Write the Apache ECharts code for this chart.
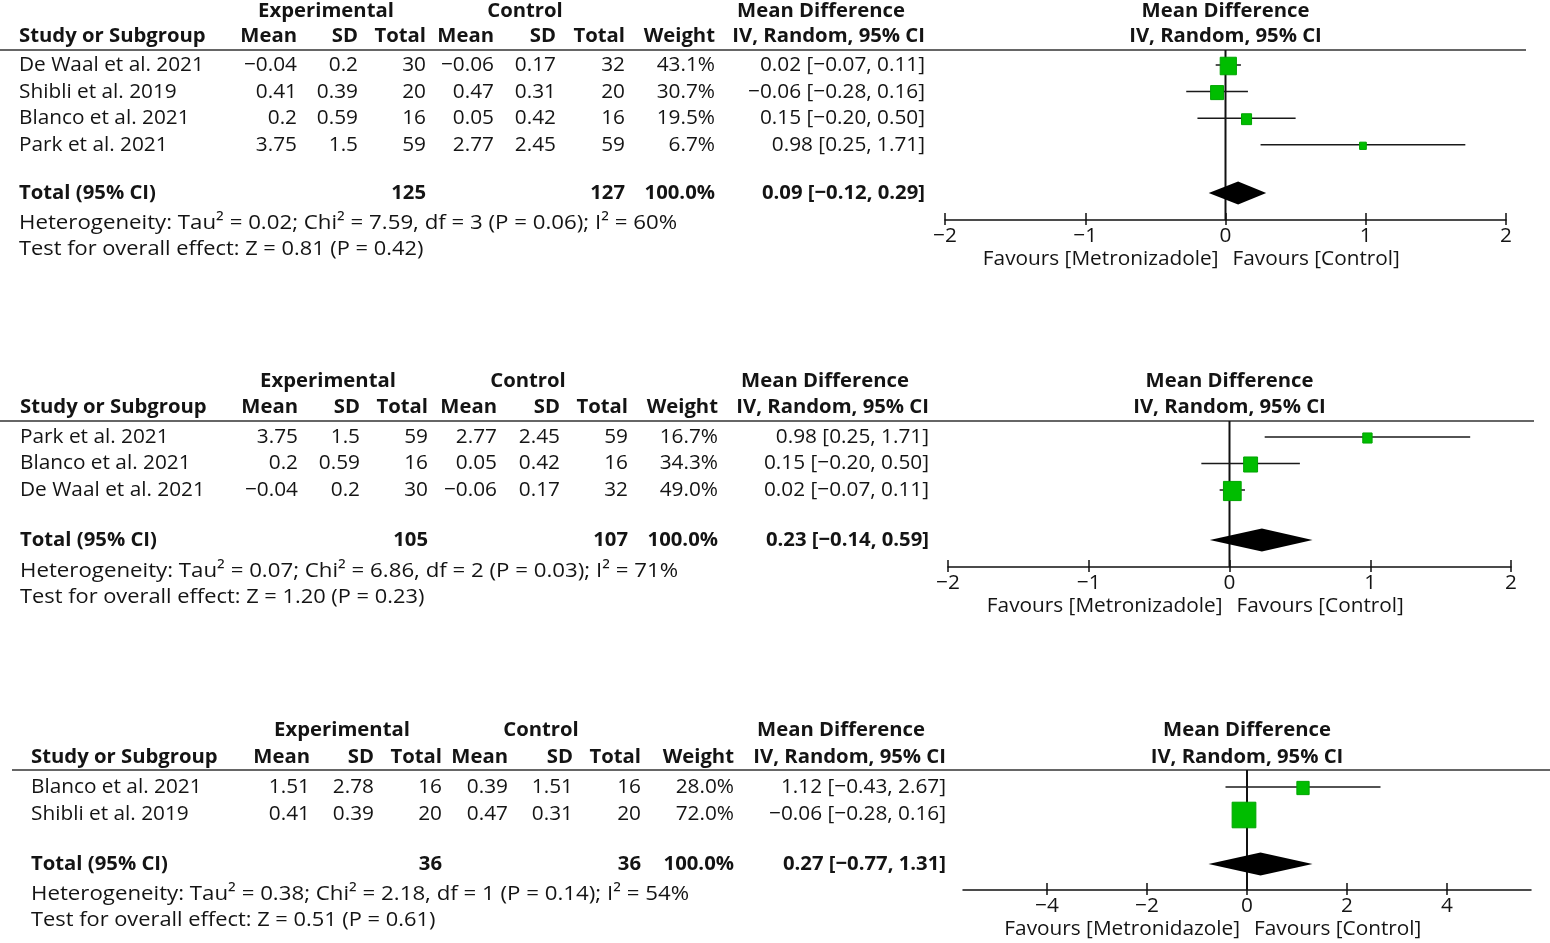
<!DOCTYPE html>
<html>
<head>
<meta charset="utf-8">
<script src="https://cdn.jsdelivr.net/npm/echarts@6.0.0/dist/echarts.min.js"></script>
<style>
  html, body { margin: 0; background: #fff; }
  #chart { width: 1550px; height: 943px; }
</style>
</head>
<body>
<div id="chart"></div>
<script>
// ---- panel A: all four trials ----
const studiesA = ["De Waal et al. 2021", "Shibli et al. 2019", "Blanco et al. 2021", "Park et al. 2021"];
const expMeanA = [-0.04, 0.41, 0.2, 3.75];
const expSdA = [0.2, 0.39, 0.59, 1.5];
const expNA = [30, 20, 16, 59];
const ctlMeanA = [-0.06, 0.47, 0.05, 2.77];
const ctlSdA = [0.17, 0.31, 0.42, 2.45];
const ctlNA = [32, 20, 16, 59];
const weightA = [43.1, 30.7, 19.5, 6.7];
const mdA = [0.02, -0.06, 0.15, 0.98];
const loA = [-0.07, -0.28, -0.20, 0.25];
const hiA = [0.11, 0.16, 0.50, 1.71];
const totalA = { expN: 125, ctlN: 127, md: 0.09, lo: -0.12, hi: 0.29 };
const hetA = "Heterogeneity: Tau² = 0.02; Chi² = 7.59, df = 3 (P = 0.06); I² = 60%";
const testA = "Test for overall effect: Z = 0.81 (P = 0.42)";

// ---- panel B: three trials ----
const studiesB = ["Park et al. 2021", "Blanco et al. 2021", "De Waal et al. 2021"];
const expMeanB = [3.75, 0.2, -0.04];
const expSdB = [1.5, 0.59, 0.2];
const expNB = [59, 16, 30];
const ctlMeanB = [2.77, 0.05, -0.06];
const ctlSdB = [2.45, 0.42, 0.17];
const ctlNB = [59, 16, 32];
const weightB = [16.7, 34.3, 49.0];
const mdB = [0.98, 0.15, 0.02];
const loB = [0.25, -0.20, -0.07];
const hiB = [1.71, 0.50, 0.11];
const totalB = { expN: 105, ctlN: 107, md: 0.23, lo: -0.14, hi: 0.59 };
const hetB = "Heterogeneity: Tau² = 0.07; Chi² = 6.86, df = 2 (P = 0.03); I² = 71%";
const testB = "Test for overall effect: Z = 1.20 (P = 0.23)";

// ---- panel C: two trials ----
const studiesC = ["Blanco et al. 2021", "Shibli et al. 2019"];
const expMeanC = [1.51, 0.41];
const expSdC = [2.78, 0.39];
const expNC = [16, 20];
const ctlMeanC = [0.39, 0.47];
const ctlSdC = [1.51, 0.31];
const ctlNC = [16, 20];
const weightC = [28.0, 72.0];
const mdC = [1.12, -0.06];
const loC = [-0.43, -0.28];
const hiC = [2.67, 0.16];
const totalC = { expN: 36, ctlN: 36, md: 0.27, lo: -0.77, hi: 1.31 };
const hetC = "Heterogeneity: Tau² = 0.38; Chi² = 2.18, df = 1 (P = 0.14); I² = 54%";
const testC = "Test for overall effect: Z = 0.51 (P = 0.61)";

const ticksAB = [-2, -1, 0, 1, 2];
const ticksC = [-4, -2, 0, 2, 4];
const favoursAB = ["Favours [Metronizadole]", "Favours [Control]"];
const favoursC = ["Favours [Metronidazole]", "Favours [Control]"];

// ---- layout (pixels) ----
const layoutA = {
  head1: 11, head2: 36, sep: 50, sepX: [0, 1526], row0: 65, rowH: 26.6, total: 193,
  het: 223, test: 249, axisY: 220, studyX: 19,
  cols: [297, 358, 426, 494, 556, 625, 715, 925], grp: [326, 525, 821],
  plotL: 945, plotR: 1506, xMin: -2, xMax: 2
};
const layoutB = {
  head1: 381, head2: 407, sep: 421, sepX: [0, 1534], row0: 437, rowH: 26.5, total: 540,
  het: 571, test: 597, axisY: 567, studyX: 20,
  cols: [298, 360, 428, 497, 560, 628, 718, 929], grp: [328, 528, 825],
  plotL: 948, plotR: 1511, xMin: -2, xMax: 2
};
const layoutC = {
  head1: 730, head2: 757, sep: 770, sepX: [12, 1550], row0: 787, rowH: 27, total: 864,
  het: 894, test: 920, axisY: 890, studyX: 31,
  cols: [310, 374, 442, 508, 573, 641, 734, 946], grp: [342, 541, 841],
  plotL: 963, plotR: 1531, xMin: -5.68, xMax: 5.68
};

const FONT = "'Open Sans', 'Liberation Sans', sans-serif";
const FS = 20.8;
const FS_BOLD = 20.3;
const INK = "#141414";
const GREEN = "#00bd00";

const panels = [
  { studies: studiesA, expMean: expMeanA, expSd: expSdA, expN: expNA, ctlMean: ctlMeanA, ctlSd: ctlSdA,
    ctlN: ctlNA, weight: weightA, md: mdA, lo: loA, hi: hiA, total: totalA, het: hetA, test: testA,
    ticks: ticksAB, favours: favoursAB, lay: layoutA },
  { studies: studiesB, expMean: expMeanB, expSd: expSdB, expN: expNB, ctlMean: ctlMeanB, ctlSd: ctlSdB,
    ctlN: ctlNB, weight: weightB, md: mdB, lo: loB, hi: hiB, total: totalB, het: hetB, test: testB,
    ticks: ticksAB, favours: favoursAB, lay: layoutB },
  { studies: studiesC, expMean: expMeanC, expSd: expSdC, expN: expNC, ctlMean: ctlMeanC, ctlSd: ctlSdC,
    ctlN: ctlNC, weight: weightC, md: mdC, lo: loC, hi: hiC, total: totalC, het: hetC, test: testC,
    ticks: ticksC, favours: favoursC, lay: layoutC }
];

function minus(v) {
  return String(v).replace("-", "\u2212");
}
function fix2(v) {
  return minus(v.toFixed(2));
}
function ciText(md, lo, hi) {
  return `${fix2(md)} [${fix2(lo)}, ${fix2(hi)}]`;
}

function txt(text, x, y, align, bold, stretch) {
  return {
    type: "text", x, y, silent: true, scaleX: stretch || 1,
    style: {
      text, fill: INK, fontFamily: FONT, fontSize: bold ? FS_BOLD : FS,
      fontWeight: bold ? "bold" : "normal", align, verticalAlign: "middle"
    }
  };
}

const grids = [];
const xAxes = [];
const yAxes = [];
const series = [];
const graphics = [];

panels.forEach((p, k) => {
  const L = p.lay;
  const c = L.cols;

  // table headers
  graphics.push(txt("Experimental", L.grp[0], L.head1, "center", true));
  graphics.push(txt("Control", L.grp[1], L.head1, "center", true));
  graphics.push(txt("Mean Difference", L.grp[2], L.head1, "center", true));
  graphics.push(txt("Study or Subgroup", L.studyX, L.head2, "left", true));
  ["Mean", "SD", "Total", "Mean", "SD", "Total", "Weight", "IV, Random, 95% CI"].forEach((h, i) => {
    graphics.push(txt(h, c[i], L.head2, "right", true));
  });
  const zeroX = L.plotL + (0 - L.xMin) / (L.xMax - L.xMin) * (L.plotR - L.plotL);
  graphics.push(txt("Mean Difference", zeroX, L.head1, "center", true));
  graphics.push(txt("IV, Random, 95% CI", zeroX, L.head2, "center", true));
  graphics.push({
    type: "line", silent: true,
    shape: { x1: L.sepX[0], y1: L.sep, x2: L.sepX[1], y2: L.sep },
    style: { stroke: "#333", lineWidth: 1.5 }
  });

  // study rows
  p.studies.forEach((s, i) => {
    const y = L.row0 + i * L.rowH;
    const cells = [minus(p.expMean[i]), minus(p.expSd[i]), p.expN[i], minus(p.ctlMean[i]), minus(p.ctlSd[i]),
      p.ctlN[i], p.weight[i].toFixed(1) + "%", ciText(p.md[i], p.lo[i], p.hi[i])];
    graphics.push(txt(s, L.studyX, y, "left", false));
    cells.forEach((v, j) => graphics.push(txt(String(v), c[j], y, "right", false)));
  });

  // total + footers
  graphics.push(txt("Total (95% CI)", L.studyX, L.total, "left", true));
  graphics.push(txt(String(p.total.expN), c[2], L.total, "right", true));
  graphics.push(txt(String(p.total.ctlN), c[5], L.total, "right", true));
  graphics.push(txt("100.0%", c[6], L.total, "right", true));
  graphics.push(txt(ciText(p.total.md, p.total.lo, p.total.hi), c[7], L.total, "right", true));
  graphics.push(txt(p.het, L.studyX, L.het, "left", false, 1.07));
  graphics.push(txt(p.test, L.studyX, L.test, "left", false, 1.05));
  graphics.push(txt(p.favours[0], zeroX - 7, L.axisY + 39, "right", false));
  graphics.push(txt(p.favours[1], zeroX + 7, L.axisY + 39, "left", false));

  // plot area: rows map to pixels exactly as the table rows do
  grids.push({ left: L.plotL, width: L.plotR - L.plotL, top: L.sep, height: L.axisY - L.sep });
  const yMin = (L.sep - L.row0) / L.rowH;
  const yMax = (L.axisY - L.row0) / L.rowH;
  const totalRow = (L.total - L.row0) / L.rowH;
  yAxes.push({ gridIndex: k, type: "value", inverse: true, min: yMin, max: yMax, show: false });

  const fmt = (v) => minus(v);
  xAxes.push({
    gridIndex: k, type: "value", min: L.xMin, max: L.xMax, position: "bottom",
    splitLine: { show: false },
    axisLine: { onZero: false, lineStyle: { color: "#111", width: 1.5 } },
    axisTick: { show: true, length: 5, customValues: p.ticks, lineStyle: { color: "#111", width: 1.5 } },
    axisLabel: { customValues: p.ticks, formatter: fmt, color: INK, fontFamily: FONT, fontSize: FS, margin: 6 }
  });
  xAxes.push({
    gridIndex: k, type: "value", min: L.xMin, max: L.xMax, position: "bottom",
    splitLine: { show: false },
    axisLine: { show: false, onZero: false },
    axisTick: { show: true, inside: true, length: 7, customValues: p.ticks, lineStyle: { color: "#111", width: 1.5 } },
    axisLabel: { show: false }
  });

  // zero line
  series.push({
    type: "line", xAxisIndex: 2 * k, yAxisIndex: k, silent: true, z: 1,
    showSymbol: false, animation: false,
    data: [[0, yMin], [0, yMax]],
    lineStyle: { color: "#111", width: 2 }
  });

  // study CIs and weight squares
  series.push({
    type: "custom", xAxisIndex: 2 * k, yAxisIndex: k, z: 3, silent: true, animation: false,
    encode: { x: [0, 1, 2], y: 4 },
    data: p.studies.map((s, i) => [p.lo[i], p.hi[i], p.md[i], p.weight[i], i]),
    renderItem(params, api) {
      const row = api.value(4);
      const a = api.coord([api.value(0), row]);
      const b = api.coord([api.value(1), row]);
      const m = api.coord([api.value(2), row]);
      const side = 5 + 0.26 * api.value(3);
      const h = side * 1.08;
      return {
        type: "group",
        children: [
          { type: "line", shape: { x1: a[0], y1: a[1], x2: b[0], y2: b[1] }, style: { stroke: "#1a1a1a", lineWidth: 1.5 } },
          { type: "rect", shape: { x: m[0] - side / 2, y: m[1] - h / 2 + 1, width: side, height: h },
            style: { fill: GREEN, stroke: "#00a500", lineWidth: 1 } }
        ]
      };
    }
  });

  // pooled diamond
  series.push({
    type: "custom", xAxisIndex: 2 * k, yAxisIndex: k, z: 3, silent: true, animation: false,
    encode: { x: [0, 1, 2], y: 3 },
    data: [[p.total.lo, p.total.hi, p.total.md, totalRow]],
    renderItem(params, api) {
      const row = api.value(3);
      const a = api.coord([api.value(0), row]);
      const b = api.coord([api.value(1), row]);
      const m = api.coord([api.value(2), row]);
      const hh = 11.5;
      return {
        type: "polygon",
        shape: { points: [[a[0], a[1]], [m[0], m[1] - hh], [b[0], b[1]], [m[0], m[1] + hh]] },
        style: { fill: "#000" }
      };
    }
  });
});

const chart = echarts.init(document.getElementById("chart"), null, { renderer: "canvas" });
chart.setOption({
  animation: false,
  backgroundColor: "#fff",
  grid: grids,
  xAxis: xAxes,
  yAxis: yAxes,
  series: series,
  graphic: { elements: graphics }
});
</script>
</body>
</html>
